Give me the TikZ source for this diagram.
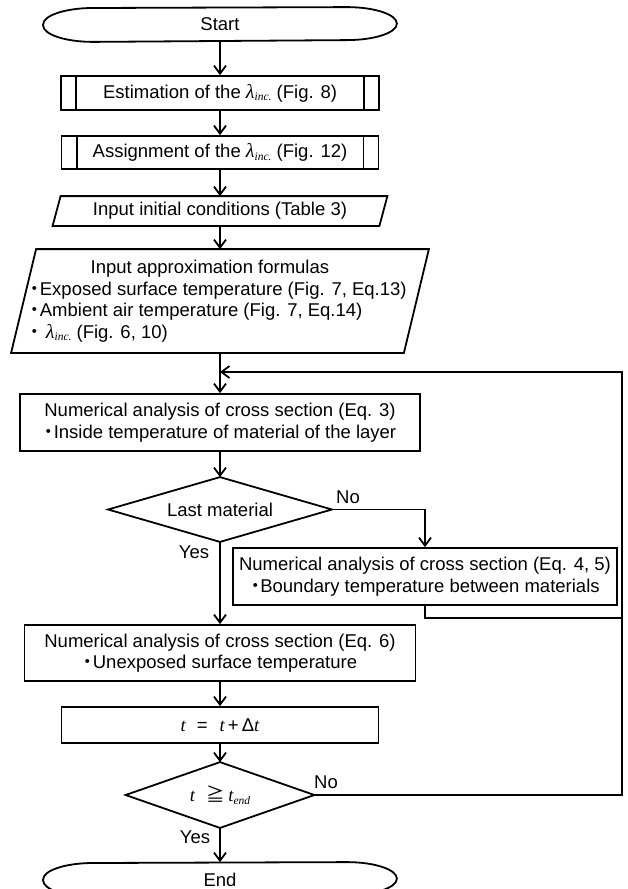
\documentclass[tikz,border=0pt]{standalone}
\usepackage{fontspec}
\setmainfont{Liberation Sans}
\newfontfamily\tms{Liberation Serif}
\newfontfamily\cjk{Noto Sans CJK JP}
\usetikzlibrary{arrows.meta}
\newcommand{\lam}{{\tms\itshape\fontsize{20}{20}\selectfont λ\raisebox{-0.3ex}{\fontsize{11.5}{11.5}\selectfont inc.}}}
\newcommand{\dt}{\makebox[10pt][c]{\cjk ・}}
\newcommand{\terminal}[1]{\draw[line join=round] (#1.west)
					arc[start angle=180,end angle=90,x radius=50pt,y radius=16.5pt]
					-- ([xshift=-50pt]#1.north east)
					arc[start angle=90,end angle=-90,x radius=50pt,y radius=16.5pt]
					-- ([xshift=50pt]#1.south west)
					arc[start angle=270,end angle=180,x radius=50pt,y radius=16.5pt] -- cycle;}
\newcommand{\subproc}[1]{\draw ([xshift=16pt]#1.north west) -- ([xshift=16pt]#1.south west)
					([xshift=-16pt]#1.north east) -- ([xshift=-16pt]#1.south east);}
\newcommand{\iobox}[2]{\draw ([xshift=#2]#1.north west) -- ([xshift=#2]#1.north east)
					-- ([xshift=-#2]#1.south east) -- ([xshift=-#2]#1.south west) -- cycle;}
\newcommand{\decision}[1]{\draw (#1.north) -- (#1.east) -- (#1.south) -- (#1.west) -- cycle;}

\begin{document}
\begin{tikzpicture}[x=1pt,y=-1pt,line width=1.8pt,
	every node/.style={font=\fontsize{18.5}{21.5}\selectfont,inner sep=0pt},
	box/.style={draw,rectangle,align=center},
	blank/.style={rectangle,align=center},
	arr/.style={-{Straight Barb[length=8pt,width=12pt]}}]

	\useasboundingbox (0,0) rectangle (627,889);

	\node[blank,minimum width=352pt,minimum height=33pt] (start) at (220,24.5) {Start};
	\terminal{start}

	\node[box,minimum width=318pt,minimum height=34pt] (est) at (220,93) {Estimation of the \lam\ (Fig. 8)};
	\subproc{est}

	\node[box,minimum width=317pt,minimum height=33pt] (asg) at (220,152.5) {Assignment of the \lam\ (Fig. 12)};
	\subproc{asg}

	\node[blank,minimum width=325pt,minimum height=28pt] (init) at (220,211) {Input initial conditions (Table 3)};
	\iobox{init}{4pt}

	\node[blank,minimum width=391pt,minimum height=102pt] (apx) at (220,301) {};
	\iobox{apx}{12.5pt}
	\node[anchor=west,align=left] (apxtxt) at (29,301) {\makebox[360pt]{Input approximation formulas}\\
		\dt Exposed surface temperature (Fig. 7, Eq.13)\\
		\dt Ambient air temperature (Fig. 7, Eq.14)\\
		\dt\hspace{6pt}\lam\ (Fig. 6, 10)};

	\node[box,minimum width=400pt,minimum height=57pt] (calc1) at (220,422.5) {Numerical analysis of cross section (Eq. 3)\\
		\dt Inside temperature of material of the layer};

	\node[blank,minimum width=222pt,minimum height=63pt] (dec1) at (220,509.5) {Last material};
	\decision{dec1}

	\node[box,minimum width=384pt,minimum height=57pt] (calc2) at (425,576.5) {Numerical analysis of cross section (Eq. 4, 5)\\
		\dt Boundary temperature between materials};

	\node[box,minimum width=391pt,minimum height=56pt] (calc3) at (220,653) {Numerical analysis of cross section (Eq. 6)\\
		\dt Unexposed surface temperature};

	\node[box,minimum width=317pt,minimum height=36pt] (tinc) at (220,725) {{\tms\itshape t}\hspace{11pt}=\hspace{12pt}{\tms\itshape t}\,+\,Δ{\tms\itshape t}};

	\node[blank,minimum width=187pt,minimum height=64pt] (dec2) at (220,795) {{\tms\itshape t}\hspace{12pt}{\cjk ≧}\hspace{3pt}{\tms\itshape t\raisebox{-0.3ex}{\fontsize{11.5}{11.5}\selectfont end}}};
	\decision{dec2}

	\node[blank,minimum width=352pt,minimum height=33pt] (stop) at (220,879.5) {End};
	\terminal{stop}

	% labels
	\node (no1) at (348,497) {No};
	\node (yes1) at (194,552) {Yes};
	\node (no2) at (326,782) {No};
	\node (yes2) at (195,837) {Yes};

	% main column
	\draw[arr] (start) -- (est);
	\draw[arr] (est) -- (asg);
	\draw[arr] (asg) -- (init);
	\draw[arr] (init) -- (apx);
	\draw[arr] (apx) -- (calc1);
	\draw[arr] (calc1) -- (dec1);
	\draw[arr] (dec1) -- (calc3);
	\draw[arr] (calc3) -- (tinc);
	\draw[arr] (tinc) -- (dec2);
	\draw[arr] (dec2) -- (stop);

	% branches and loop back
	\coordinate (rtop) at (622,372);
	\coordinate (rmid) at (622,618);
	\coordinate (join) at (220,372);
	\draw[arr] (dec1.east) -| (calc2.north);
	\draw (calc2.south) |- (rmid);
	\draw[arr] (dec2.east) -| (rtop) -- (join);

\end{tikzpicture}
\end{document}
